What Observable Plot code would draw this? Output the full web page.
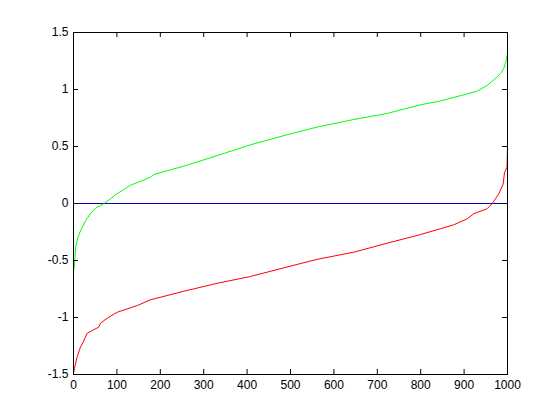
<!DOCTYPE html>
<html>
<head>
<meta charset="utf-8">
<script src="https://cdn.jsdelivr.net/npm/d3@7"></script>
<script src="https://cdn.jsdelivr.net/npm/@observablehq/plot@0.6"></script>
<style>
  html, body { margin: 0; padding: 0; background: #fff; }
  #chart { width: 560px; height: 420px; }
</style>
</head>
<body>
<div id="chart"></div>
<script>
// Green series (sorted sample, upper curve)
const greenX = [0, 3, 5, 10, 16, 28, 39, 48, 55, 62, 70, 85, 100, 115, 131, 158, 177, 185, 254, 331, 408, 485, 561, 646, 723, 800, 846, 876, 930, 953, 976, 986, 992, 998, 1000];
const greenY = [-0.6, -0.5, -0.38, -0.3, -0.24, -0.15, -0.09, -0.05, -0.03, -0.02, 0, 0.04, 0.085, 0.12, 0.16, 0.2, 0.23, 0.255, 0.327, 0.42, 0.515, 0.596, 0.67, 0.737, 0.79, 0.866, 0.9, 0.93, 0.985, 1.035, 1.11, 1.15, 1.19, 1.27, 1.32];

// Red series (sorted sample, lower curve)
const redX = [0, 2, 8, 16, 22, 31, 45, 58, 62, 80, 100, 147, 177, 254, 331, 408, 485, 561, 646, 723, 800, 876, 907, 922, 953, 965, 980, 990, 993, 999, 1000];
const redY = [-1.49, -1.45, -1.35, -1.26, -1.22, -1.14, -1.11, -1.085, -1.05, -1.0, -0.955, -0.895, -0.845, -0.77, -0.7, -0.64, -0.564, -0.49, -0.427, -0.348, -0.272, -0.187, -0.135, -0.09, -0.046, 0, 0.085, 0.17, 0.27, 0.32, 0.49];

// Axis ticks
const xTicks = [0, 100, 200, 300, 400, 500, 600, 700, 800, 900, 1000];
const yTicks = [-1.5, -1, -0.5, 0, 0.5, 1, 1.5];
const zeroLine = [0];

const green = greenX.map((x, i) => ({x, y: greenY[i]}));
const red = redX.map((x, i) => ({x, y: redY[i]}));

const W = 560, H = 420;
const mL = 73, mR = 53, mT = 32, mB = 46;
const pw = W - mL - mR, ph = H - mT - mB;
const tk = 5;

const chart = Plot.plot({
  width: W,
  height: H,
  marginLeft: mL,
  marginRight: mR,
  marginTop: mT,
  marginBottom: mB,
  style: {fontFamily: "'Liberation Sans', Arial, Helvetica, sans-serif", fontSize: "12px", color: "#000", background: "#fff"},
  x: {domain: [0, 1000], ticks: xTicks, label: null},
  y: {domain: [-1.5, 1.5], ticks: yTicks, label: null, clamp: true},
  marks: [
    Plot.ruleY(zeroLine, {stroke: "#0000b4", strokeWidth: 1}),
    Plot.line(green, {x: "x", y: "y", stroke: "#00ff00", strokeWidth: 1}),
    Plot.line(red, {x: "x", y: "y", stroke: "#ff0000", strokeWidth: 1}),
    Plot.tickX(xTicks, {x: d => d, insetTop: ph - tk, stroke: "#000"}),
    Plot.tickX(xTicks, {x: d => d, insetBottom: ph - tk, stroke: "#000"}),
    Plot.tickY(yTicks, {y: d => d, insetLeft: pw - tk, stroke: "#000"}),
    Plot.tickY(yTicks, {y: d => d, insetRight: pw - tk, stroke: "#000"}),
    Plot.frame({stroke: "#000"}),
    Plot.axisX({ticks: xTicks, tickSize: 0, tickPadding: 6, tickFormat: d => String(d), label: null}),
    Plot.axisY({ticks: yTicks, tickSize: 0, tickPadding: 5, tickFormat: d => String(d), label: null})
  ]
});
document.getElementById("chart").appendChild(chart);
</script>
</body>
</html>
